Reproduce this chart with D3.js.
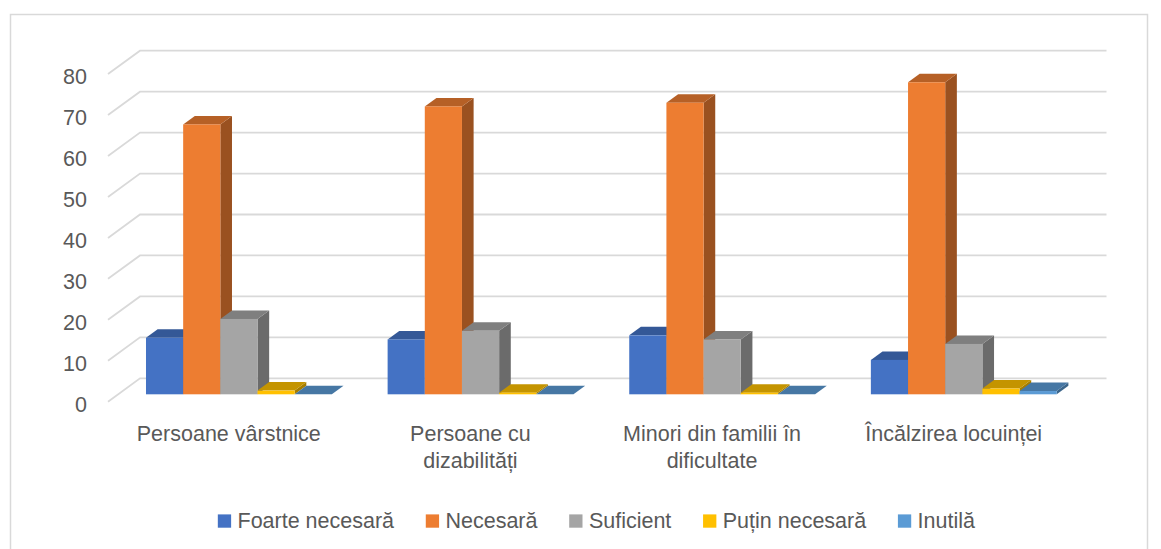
<!DOCTYPE html>
<html>
<head>
<meta charset="utf-8">
<script src="https://cdn.jsdelivr.net/npm/d3@7"></script>
<style>
  html, body { margin: 0; padding: 0; background: #ffffff; }
  svg { display: block; }
  text { font-family: "Liberation Sans", Arial, sans-serif; fill: #595959; }
</style>
</head>
<body>
<svg id="chart" width="1161" height="549"></svg>
<script>
// Categories and series values (percent of answers)
const categories = [
  "Persoane vârstnice",
  "Persoane cu dizabilități",
  "Minori din familii în dificultate",
  "Încălzirea locuinței"
];
const seriesNames = ["Foarte necesară", "Necesară", "Suficient", "Puțin necesară", "Inutilă"];
const foarteNecesara = [13.8, 13.4, 14.4, 8.4];
const necesara       = [65.9, 70.3, 71.2, 76.2];
const suficient      = [18.4, 15.5, 13.4, 12.3];
const putinNecesara  = [0.9, 0.4, 0.4, 1.4];
const inutila        = [0, 0, 0, 0.8];
const seriesColors   = ["#4472C4", "#ED7D31", "#A5A5A5", "#FFC000", "#5B9BD5"];
const yTicks = [0, 10, 20, 30, 40, 50, 60, 70, 80];

const seriesValues = [foarteNecesara, necesara, suficient, putinNecesara, inutila];

const svg = d3.select("#chart");
const FONT = 21.5;

// Chart frame
svg.append("rect")
  .attr("x", 10.5).attr("y", 14.5)
  .attr("width", 1137).attr("height", 560)
  .attr("fill", "none").attr("stroke", "#d9d9d9").attr("stroke-width", 1.5);

// Oblique 3D projection: floor front edge plus a depth vector
const DX = 32, DY = 23.4;
const x = d3.scaleBand().domain(categories).range([108, 1074.5]).paddingInner(0).paddingOuter(0);
const y = d3.scaleLinear().domain([0, 80]).range([401.7, 74.1]);
const proj = (xf, v, t) => [xf + t * DX, y(v) - t * DY];

// Bars occupy the middle part of the depth
const T0 = 0.316, T1 = 0.68;

// Back wall gridlines and side wall diagonals
const grid = svg.append("g");
yTicks.forEach(v => {
  const a = proj(x.range()[0], v, 0);
  const b = proj(x.range()[0], v, 1);
  const c = proj(x.range()[1], v, 1);
  grid.append("path")
    .attr("d", `M${a[0]},${a[1]}L${b[0]},${b[1]}L${c[0]},${c[1]}`)
    .attr("fill", "none").attr("stroke", "#d9d9d9").attr("stroke-width", 1.8);
});

// Value axis labels
svg.append("g").selectAll("text").data(yTicks).join("text")
  .attr("x", 87).attr("y", d => y(d) + 10.2)
  .attr("text-anchor", "end")
  .attr("font-size", FONT)
  .text(d => d);

// Bars inside each category band
const barSlots = 6.5;
const bw = x.bandwidth() / barSlots;
const inner = d3.scaleBand().domain(seriesNames)
  .range([(x.bandwidth() - bw * seriesNames.length) / 2, (x.bandwidth() + bw * seriesNames.length) / 2]);

const shade = (c, k) => { const r = d3.rgb(c); return d3.rgb(r.r * k, r.g * k, r.b * k).formatHex(); };

const bars = svg.append("g");
categories.forEach((cat, ci) => {
  seriesNames.forEach((s, si) => {
    const v = seriesValues[si][ci];
    const xl = x(cat) + inner(s);
    const xr = xl + inner.bandwidth();
    const col = seriesColors[si];
    const p = (xf, val, t) => proj(xf, val, t).join(",");
    const g = bars.append("g");
    // right side face
    g.append("polygon")
      .attr("points", [p(xr, 0, T0), p(xr, v, T0), p(xr, v, T1), p(xr, 0, T1)].join(" "))
      .attr("fill", shade(col, 0.65));
    // top face
    g.append("polygon")
      .attr("points", [p(xl, v, T0), p(xr, v, T0), p(xr, v, T1), p(xl, v, T1)].join(" "))
      .attr("fill", shade(col, 0.77));
    // front face
    const f0 = proj(xl, v, T0), f1 = proj(xr, 0, T0);
    g.append("rect")
      .attr("x", f0[0]).attr("y", f0[1])
      .attr("width", f1[0] - f0[0]).attr("height", Math.max(0, f1[1] - f0[1]))
      .attr("fill", col);
  });
});

// Category labels, wrapped to the band
const labels = svg.append("g");
categories.forEach(cat => {
  const cx = x(cat) + x.bandwidth() / 2;
  const t = labels.append("text")
    .attr("x", cx).attr("y", 441)
    .attr("text-anchor", "middle")
    .attr("font-size", FONT);
  const words = cat.split(" ");
  let line = [];
  let lineNo = 0;
  let tspan = t.append("tspan").attr("x", cx).attr("y", 441);
  words.forEach(w => {
    line.push(w);
    tspan.text(line.join(" "));
    if (tspan.node().getComputedTextLength() > 200 && line.length > 1) {
      line.pop();
      tspan.text(line.join(" "));
      line = [w];
      lineNo++;
      tspan = t.append("tspan").attr("x", cx).attr("y", 441 + lineNo * 26.7).text(w);
    }
  });
});

// Legend, centred under the plot
const legend = svg.append("g");
const sq = 13.3, gapText = 6.4, gapItem = 31.7;
let lx = 0;
const items = seriesNames.map((name, i) => {
  const g = legend.append("g");
  g.append("rect").attr("x", 0).attr("y", 514.4).attr("width", sq).attr("height", sq)
    .attr("fill", seriesColors[i]);
  const tx = g.append("text").attr("x", sq + gapText).attr("y", 528)
    .attr("font-size", FONT).text(name);
  const w = sq + gapText + tx.node().getComputedTextLength();
  g.attr("transform", `translate(${lx},0)`);
  lx += w + gapItem;
  return w;
});
const total = lx - gapItem;
legend.attr("transform", `translate(${596.4 - total / 2},0)`);
</script>
</body>
</html>
